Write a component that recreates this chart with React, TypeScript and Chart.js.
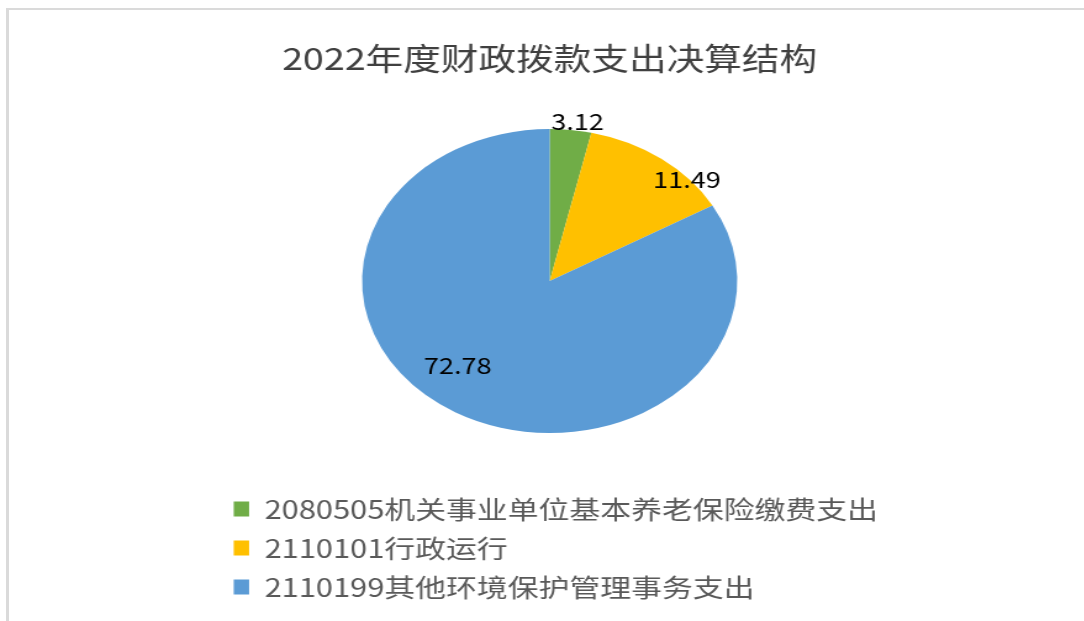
import React, { useEffect, useRef } from 'react';
import { Chart, registerables } from 'chart.js';

Chart.register(...registerables);

// ---- data ----
const categories = [
  '2080505机关事业单位基本养老保险缴费支出',
  '2110101行政运行',
  '2110199其他环境保护管理事务支出',
];
const values = [3.12, 11.49, 72.78];
const sliceColors = ['#70AD47', '#FFC000', '#5B9BD5'];
const chartTitle = '2022年度财政拨款支出决算结构';

const FONT = "'Noto Sans CJK SC', 'Noto Sans', sans-serif";
const STRETCH = 1.234;
const CANVAS_W = 557;
const CANVAS_H = 621;

const sliceLabels = {
  id: 'sliceLabels',
  afterDatasetsDraw(chart: any, _args: any, opts: any) {
    const meta = chart.getDatasetMeta(0);
    const data = chart.data.datasets[0].data as number[];
    const ctx = chart.ctx;
    ctx.save();
    ctx.font = `${opts.size}px ${FONT}`;
    ctx.fillStyle = opts.color;
    ctx.textAlign = 'center';
    ctx.textBaseline = 'middle';
    meta.data.forEach((arc: any, i: number) => {
      const { x, y, startAngle, endAngle, outerRadius } = arc.getProps(
        ['x', 'y', 'startAngle', 'endAngle', 'outerRadius'],
        true
      );
      const p = opts.place[i];
      const ang = startAngle + (endAngle - startAngle) * p.a;
      const r = outerRadius * p.r;
      ctx.fillText(data[i].toFixed(2), x + Math.cos(ang) * r, y + Math.sin(ang) * r);
    });
    ctx.restore();
  },
};

export default function App() {
  const ref = useRef<HTMLCanvasElement>(null);

  useEffect(() => {
    const canvas = ref.current;
    if (!canvas) return;
    const baseGen = (Chart as any).overrides.doughnut.plugins.legend.labels.generateLabels;
    const chart = new Chart(canvas, {
      type: 'pie',
      data: {
        labels: categories,
        datasets: [
          {
            data: values,
            backgroundColor: sliceColors,
            borderWidth: 0,
            radius: 152,
          } as any,
        ],
      },
      options: {
        responsive: false,
        animation: false,
        devicePixelRatio: 1,
        layout: { padding: { top: 0, bottom: 11.5, left: 8.45, right: 8.45 } },
        plugins: {
          title: {
            display: true,
            text: chartTitle,
            color: '#404040',
            font: { family: FONT, size: 30.5, weight: 'normal' },
            padding: { top: 39.7, bottom: 3.2 },
          },
          legend: {
            position: 'bottom',
            align: 'start',
            labels: {
              color: '#595959',
              font: { family: FONT, size: 25 },
              boxWidth: 12.5,
              boxHeight: 15,
              padding: 14,
              generateLabels(c: any) {
                const items = baseGen(c);
                return items.map((it: any) => ({ ...it, text: it.text + '\u3000\u3000\u3000\u3000' }));
              },
            },
          },
          tooltip: { enabled: false },
          sliceLabels: {
            size: 22,
            color: '#000000',
            place: [
              { a: 0.63, r: 1.057 },
              { a: 0.735, r: 0.99 },
              { a: 0.538, r: 0.74 },
            ],
          },
        } as any,
      },
      plugins: [sliceLabels],
    });
    return () => chart.destroy();
  }, []);

  return (
    <div
      style={{
        position: 'fixed',
        left: 0,
        top: 0,
        width: 1084,
        height: 621,
        background: '#ffffff',
        overflow: 'hidden',
      }}
    >
      <div
        style={{
          position: 'absolute',
          left: 6,
          top: 8,
          width: 1200,
          height: 700,
          borderLeft: '3px solid #dadada',
          borderTop: '2px solid #dadada',
        }}
      />
      <div
        style={{
          position: 'absolute',
          left: 206.3,
          top: 0,
          width: CANVAS_W,
          height: CANVAS_H,
          transform: `scaleX(${STRETCH})`,
          transformOrigin: '0 0',
        }}
      >
        <canvas
          ref={ref}
          width={CANVAS_W}
          height={CANVAS_H}
          style={{ display: 'block', width: CANVAS_W, height: CANVAS_H }}
        />
      </div>
    </div>
  );
}
